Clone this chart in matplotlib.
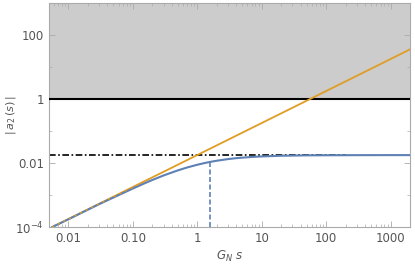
import matplotlib
matplotlib.use("Agg")
import matplotlib.pyplot as plt
from matplotlib.ticker import FixedLocator, NullFormatter

# values (log-log)
blue_x = [0.0056, 0.01, 0.03, 0.1, 0.15, 0.2, 0.3, 0.5, 0.7, 1.0, 1.3, 1.6, 2.0, 3.0,
          4.0, 5.0, 7.0, 10, 20, 30, 50, 100, 300, 1000, 2000]
blue_y = [1.0e-4, 1.75e-4, 5.2e-4, 1.6e-3, 2.3e-3, 2.95e-3, 4.1e-3, 5.9e-3, 7.3e-3, 8.85e-3,
          1.0e-2, 1.09e-2, 1.18e-2, 1.33e-2, 1.42e-2, 1.475e-2, 1.55e-2, 1.61e-2, 1.69e-2,
          1.71e-2, 1.74e-2, 1.75e-2, 1.765e-2, 1.77e-2, 1.77e-2]
orange_x = [0.0056, 2000]
orange_y = [1.0e-4, 35.4]
overlap_x = [0.0056, 0.2]
overlap_y = [1.0e-4, 3.5e-3]
limit_y = 0.0177      # dash-dot asymptote
limit_xmax = 200
unitarity_y = 1.0     # solid black bound
marker_x = 1.6        # vertical dashed line
marker_y = 0.0109

xticks = [0.01, 0.1, 1, 10, 100, 1000]
xlabels = ["0.01", "0.10", "1", "10", "100", "1000"]
yticks = [1e-4, 0.01, 1, 100]
ylabels = [r"$10^{-4}$", "0.01", "1", "100"]

blue = "#5E81B5"
orange = "#E19C24"
grey = "#555555"

plt.rcParams["mathtext.fontset"] = "dejavusans"
fig = plt.figure(figsize=(4.15, 2.65), dpi=100)
ax = fig.add_axes([0.118, 0.143, 0.870, 0.846])
ax.set_xscale("log")
ax.set_yscale("log")
xmin, xmax = 0.005, 2000
ymin, ymax = 1e-4, 1000
ax.set_xlim(xmin, xmax)
ax.set_ylim(ymin, ymax)

ax.fill_between([xmin, xmax], unitarity_y, ymax, color="#cccccc", lw=0, zorder=0)
ax.axhline(unitarity_y, color="black", lw=1.5, zorder=3)
ax.plot([xmin, limit_xmax], [limit_y, limit_y], color="black", lw=1.2,
        dashes=(4, 1.5, 1, 1.5), zorder=2)
ax.plot(orange_x, orange_y, color=orange, lw=1.3, zorder=3)
ax.plot(blue_x, blue_y, color=blue, lw=1.5, zorder=4)
ax.plot(overlap_x, overlap_y, color=orange, lw=1.0, dashes=(1.5, 3), zorder=5)
ax.plot([marker_x, marker_x], [ymin, marker_y], color=blue, lw=1.2,
        dashes=(3, 1.5), zorder=4)

ax.xaxis.set_major_locator(FixedLocator(xticks))
ax.set_xticklabels(xlabels)
ax.yaxis.set_major_locator(FixedLocator(yticks))
ax.set_yticklabels(ylabels)
xminor = [m * 10.0 ** e for e in range(-3, 4) for m in range(2, 10)]
ax.xaxis.set_minor_locator(FixedLocator(xminor))
ax.yaxis.set_minor_locator(FixedLocator([1e-3, 0.1, 10]))
ax.xaxis.set_minor_formatter(NullFormatter())
ax.yaxis.set_minor_formatter(NullFormatter())

ax.tick_params(which="both", direction="in", top=True, right=True,
               colors="#aaaaaa", labelcolor=grey, labelsize=8.5)
ax.tick_params(which="major", length=4, width=0.6)
ax.tick_params(which="minor", length=2, width=0.5)
for sp in ax.spines.values():
    sp.set_color("#aaaaaa")
    sp.set_linewidth(0.8)

ax.set_xlabel(r"$G_N\ s$", color=grey, fontsize=8.5, labelpad=3)
ax.set_ylabel(r"$|\,a_2\,(s)\,|$", color=grey, fontsize=8)
ax.yaxis.set_label_coords(-0.085, 0.5)

fig.savefig("out.png", dpi=100)
